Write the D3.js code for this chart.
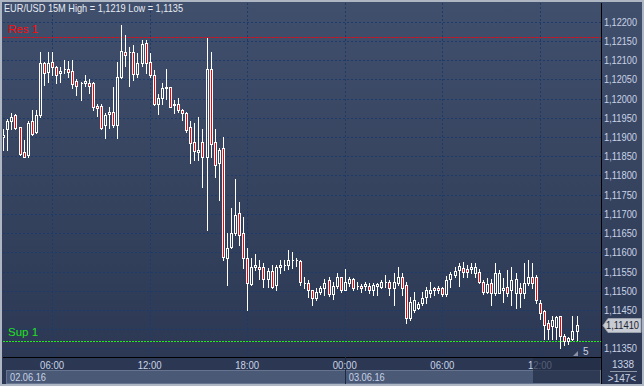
<!DOCTYPE html>
<html lang="en">
<head>
<meta charset="utf-8">
<title>EUR/USD 15M</title>
<script src="https://d3js.org/d3.v7.min.js"></script>
<style>
  html, body { margin: 0; padding: 0; background: #2f3b57; }
  svg { display: block; font-family: "Liberation Sans", Arial, sans-serif; }
</style>
</head>
<body>
<script>
// chart data: 15 minute candles from 02.06.16 03:00
var startTime = new Date(2016, 5, 2, 3, 0);
var stepMinutes = 15;

var opens = [1.11900,1.11920,1.11942,1.11957,1.11925,1.11860,1.11853,1.11942,1.11914,1.11957,
  1.12092,1.12070,1.12094,1.12081,1.12066,1.12076,1.12076,1.12072,1.12046,1.12040,
  1.12040,1.12040,1.12040,1.11981,1.11981,1.11930,1.11961,1.11964,1.11930,1.12055,
  1.12120,1.12120,1.12120,1.12064,1.12092,1.12145,1.12094,1.12061,1.11985,1.12001,
  1.12027,1.12029,1.11983,1.11986,1.11970,1.11963,1.11925,1.11886,1.11860,1.11886,
  1.11849,1.12076,1.11886,1.11832,1.11871,1.11585,1.11615,1.11650,1.11702,1.11650,
  1.11585,1.11518,1.11561,1.11561,1.11561,1.11530,1.11552,1.11514,1.11561,1.11567,
  1.11567,1.11579,1.11579,1.11577,1.11520,1.11520,1.11501,1.11481,1.11496,1.11507,
  1.11527,1.11492,1.11513,1.11535,1.11502,1.11520,1.11530,1.11513,1.11513,1.11513,
  1.11513,1.11501,1.11513,1.11511,1.11524,1.11524,1.11507,1.11521,1.11535,1.11515,
  1.11429,1.11449,1.11455,1.11468,1.11485,1.11495,1.11507,1.11507,1.11507,1.11492,
  1.11530,1.11541,1.11553,1.11560,1.11556,1.11556,1.11546,1.11550,1.11524,1.11498,
  1.11520,1.11494,1.11494,1.11501,1.11511,1.11502,1.11495,1.11507,1.11495,1.11520,
  1.11535,1.11535,1.11469,1.11448,1.11416,1.11409,1.11405,1.11433,1.11381,1.11370,
  1.11374,1.11396];
var highs = [1.11921,1.11948,1.11962,1.11959,1.11926,1.11892,1.11942,1.11970,1.11970,1.12120,
  1.12096,1.12120,1.12120,1.12086,1.12083,1.12100,1.12099,1.12100,1.12050,1.12042,
  1.12061,1.12050,1.12044,1.11986,1.11986,1.11963,1.11979,1.12031,1.12094,1.12191,
  1.12165,1.12135,1.12139,1.12118,1.12152,1.12152,1.12118,1.12074,1.12012,1.12040,
  1.12076,1.12031,1.11996,1.12001,1.11974,1.11966,1.11942,1.11936,1.11951,1.11921,
  1.12157,1.12120,1.11921,1.11872,1.11899,1.11650,1.11715,1.11790,1.11730,1.11691,
  1.11611,1.11586,1.11596,1.11579,1.11573,1.11559,1.11567,1.11567,1.11579,1.11579,
  1.11606,1.11602,1.11585,1.11579,1.11535,1.11527,1.11502,1.11507,1.11513,1.11530,
  1.11535,1.11524,1.11546,1.11537,1.11556,1.11535,1.11533,1.11524,1.11518,1.11524,
  1.11521,1.11521,1.11521,1.11527,1.11541,1.11528,1.11546,1.11561,1.11546,1.11524,
  1.11483,1.11498,1.11472,1.11498,1.11509,1.11524,1.11509,1.11513,1.11511,1.11539,
  1.11548,1.11563,1.11573,1.11576,1.11567,1.11573,1.11572,1.11556,1.11528,1.11533,
  1.11530,1.11572,1.11554,1.11533,1.11553,1.11563,1.11546,1.11521,1.11573,1.11580,
  1.11572,1.11541,1.11476,1.11450,1.11424,1.11435,1.11435,1.11435,1.11387,1.11379,
  1.11435,1.11435];
var lows = [1.11865,1.11865,1.11920,1.11920,1.11853,1.11849,1.11849,1.11904,1.11910,1.11953,
  1.12035,1.12044,1.12061,1.12040,1.12044,1.12066,1.12057,1.12027,1.12009,1.11995,
  1.12034,1.12015,1.11970,1.11955,1.11920,1.11898,1.11924,1.11927,1.11897,1.12053,
  1.12086,1.12034,1.12048,1.12055,1.12086,1.12066,1.12055,1.11983,1.11960,1.11985,
  1.11999,1.11977,1.11962,1.11966,1.11944,1.11914,1.11833,1.11839,1.11840,1.11771,
  1.11658,1.11849,1.11795,1.11735,1.11580,1.11514,1.11612,1.11645,1.11619,1.11560,
  1.11450,1.11514,1.11553,1.11530,1.11511,1.11511,1.11507,1.11502,1.11546,1.11554,
  1.11556,1.11559,1.11565,1.11514,1.11507,1.11485,1.11463,1.11475,1.11492,1.11489,
  1.11487,1.11478,1.11507,1.11498,1.11501,1.11513,1.11502,1.11504,1.11498,1.11501,
  1.11495,1.11489,1.11489,1.11507,1.11511,1.11489,1.11463,1.11515,1.11489,1.11416,
  1.11424,1.11446,1.11452,1.11463,1.11469,1.11485,1.11489,1.11495,1.11487,1.11487,
  1.11511,1.11535,1.11513,1.11535,1.11537,1.11546,1.11537,1.11520,1.11492,1.11494,
  1.11463,1.11489,1.11494,1.11472,1.11487,1.11463,1.11455,1.11459,1.11481,1.11515,
  1.11507,1.11468,1.11426,1.11374,1.11374,1.11374,1.11374,1.11350,1.11359,1.11361,
  1.11372,1.11372];
var closes = [1.11905,1.11942,1.11952,1.11923,1.11855,1.11849,1.11936,1.11909,1.11957,1.12092,
  1.12066,1.12092,1.12081,1.12061,1.12072,1.12076,1.12070,1.12038,1.12034,1.12040,
  1.12046,1.12034,1.11979,1.11975,1.11924,1.11957,1.11964,1.11930,1.12055,1.12125,
  1.12114,1.12120,1.12064,1.12092,1.12142,1.12092,1.12061,1.11985,1.12001,1.12027,
  1.12029,1.11979,1.11986,1.11969,1.11962,1.11918,1.11885,1.11864,1.11866,1.11849,
  1.12076,1.11882,1.11827,1.11866,1.11589,1.11611,1.11650,1.11697,1.11645,1.11585,
  1.11520,1.11561,1.11567,1.11556,1.11530,1.11552,1.11511,1.11561,1.11567,1.11567,
  1.11579,1.11579,1.11579,1.11524,1.11520,1.11501,1.11481,1.11496,1.11506,1.11520,
  1.11492,1.11513,1.11535,1.11502,1.11524,1.11530,1.11507,1.11513,1.11507,1.11518,
  1.11501,1.11515,1.11518,1.11524,1.11524,1.11507,1.11524,1.11535,1.11507,1.11429,
  1.11472,1.11475,1.11466,1.11481,1.11502,1.11502,1.11501,1.11501,1.11492,1.11527,
  1.11543,1.11552,1.11565,1.11550,1.11550,1.11561,1.11563,1.11524,1.11496,1.11517,
  1.11494,1.11546,1.11546,1.11507,1.11495,1.11528,1.11530,1.11495,1.11520,1.11535,
  1.11520,1.11475,1.11442,1.11410,1.11400,1.11424,1.11431,1.11381,1.11370,1.11377,
  1.11394,1.11410];

var priceTicks = [1.1135,1.1140,1.1145,1.1150,1.1155,1.1160,1.1165,1.1170,1.1175,1.1180,
  1.1185,1.1190,1.1195,1.1200,1.1205,1.1210,1.1215,1.1220];
var timeTicks = [new Date(2016,5,2,6), new Date(2016,5,2,12), new Date(2016,5,2,18),
  new Date(2016,5,3,0), new Date(2016,5,3,6), new Date(2016,5,3,12)];
var dateLabels = [{d: new Date(2016,5,2,3), t: "02.06.16"}, {d: new Date(2016,5,3,0), t: "03.06.16"}];
var resLevel = 1.1216, supLevel = 1.1137;
var lastPrice = 1.11410;
var title = "EUR/USD 15M High = 1,1219 Low = 1,1135";

var width = 644, height = 386;
var plotL = 3, plotR = 601, plotT = 3, plotB = 357;

var candles = opens.map(function(o, i) {
  return {t: d3.timeMinute.offset(startTime, i * stepMinutes), o: o, h: highs[i], l: lows[i], c: closes[i]};
});

var x = d3.scaleTime()
  .domain([startTime, candles[candles.length - 1].t])
  .range([3.3, 576.5]);
var y = d3.scaleLinear()
  .domain([1.1135, 1.1220])
  .range([348.4, 21.7]);

var fmt = function(v) { return d3.format(".5f")(v).replace(".", ","); };
var labelColor = "#c9d3e6";

var svg = d3.select("body").append("svg")
  .attr("width", width)
  .attr("height", height);

var defs = svg.append("defs");
var grad = defs.append("linearGradient").attr("id", "bg")
  .attr("x1", 0).attr("y1", 0).attr("x2", 0).attr("y2", 1);
grad.append("stop").attr("offset", "0%").attr("stop-color", "#404f6c");
grad.append("stop").attr("offset", "100%").attr("stop-color", "#2b3752");
defs.append("clipPath").attr("id", "plotclip").append("rect")
  .attr("x", plotL).attr("y", plotT).attr("width", plotR - plotL).attr("height", plotB - plotT);

// frame and background
svg.append("rect").attr("width", width).attr("height", height).attr("fill", "#aeb5c3");
svg.append("rect").attr("x", 2).attr("y", 2).attr("width", width - 4).attr("height", height - 4)
  .attr("fill", "url(#bg)");

// grid
var grid = svg.append("g").attr("clip-path", "url(#plotclip)")
  .attr("stroke", "#1c3a6a").attr("stroke-dasharray", "2,2").attr("shape-rendering", "crispEdges");
grid.selectAll(".hg").data(priceTicks).enter().append("line")
  .attr("x1", plotL).attr("x2", plotR)
  .attr("y1", function(d) { return Math.round(y(d)) + 0.5; })
  .attr("y2", function(d) { return Math.round(y(d)) + 0.5; });
grid.selectAll(".vg").data(timeTicks).enter().append("line")
  .attr("y1", plotT).attr("y2", plotB)
  .attr("x1", function(d) { return Math.round(x(d)) + 0.5; })
  .attr("x2", function(d) { return Math.round(x(d)) + 0.5; });

// support / resistance
svg.append("line").attr("x1", plotL).attr("x2", plotR)
  .attr("y1", Math.round(y(resLevel)) + 0.5).attr("y2", Math.round(y(resLevel)) + 0.5)
  .attr("stroke", "#d8101c").attr("stroke-dasharray", "3,1").attr("shape-rendering", "crispEdges");
svg.append("line").attr("x1", plotL).attr("x2", plotR)
  .attr("y1", Math.round(y(supLevel)) + 0.5).attr("y2", Math.round(y(supLevel)) + 0.5)
  .attr("stroke", "#1ee81e").attr("stroke-dasharray", "2,1").attr("shape-rendering", "crispEdges");
svg.append("text").attr("x", 8).attr("y", y(resLevel) - 4.5)
  .attr("fill", "#ff0a0a").attr("font-size", "11.5px").text("Res 1");
svg.append("text").attr("x", 8).attr("y", y(supLevel) - 4.5)
  .attr("fill", "#22e022").attr("font-size", "11.5px").text("Sup 1");

// candles
var cg = svg.append("g").attr("clip-path", "url(#plotclip)").attr("shape-rendering", "crispEdges");
candles.forEach(function(d) {
  var cx = Math.round(x(d.t));
  var top = Math.round(y(Math.max(d.o, d.c)));
  var bot = Math.round(y(Math.min(d.o, d.c)));
  cg.append("line").attr("x1", cx + 0.5).attr("x2", cx + 0.5)
    .attr("y1", Math.round(y(d.h))).attr("y2", top).attr("stroke", "#fff");
  cg.append("line").attr("x1", cx + 0.5).attr("x2", cx + 0.5)
    .attr("y1", bot).attr("y2", Math.round(y(d.l)) + 1).attr("stroke", "#fff");
  cg.append("path")
    .attr("d", "M" + (cx - 0.5) + "," + (top + 0.5) + "h2v" + (bot - top) + "h-2Z")
    .attr("fill", d.c < d.o ? "#ff0000" : "none")
    .attr("stroke", "#fff");
});

// axes lines
svg.append("line").attr("x1", plotR + 0.5).attr("x2", plotR + 0.5).attr("y1", plotT).attr("y2", 384)
  .attr("stroke", "#000");
svg.append("line").attr("x1", plotL).attr("x2", plotR).attr("y1", plotB + 0.5).attr("y2", plotB + 0.5)
  .attr("stroke", "#000");

// price labels
svg.append("g").selectAll("text")
  .data(priceTicks.filter(function(d) { return Math.abs(y(d) - y(lastPrice)) > 8; }))
  .enter().append("text")
  .attr("x", 604).attr("y", function(d) { return y(d) + 4; })
  .attr("fill", labelColor).attr("font-size", "10px")
  .attr("textLength", 33).attr("lengthAdjust", "spacingAndGlyphs")
  .text(fmt);

// last price marker
var ly = Math.round(y(lastPrice));
svg.append("path")
  .attr("d", "M603," + (ly + 0.5) + "L608," + (ly - 6.5) + "H641V" + (ly + 7.5) + "H608Z")
  .attr("fill", "#c7cbd3").attr("stroke", "#9aa0ac");
svg.append("text").attr("x", 606).attr("y", ly + 4).attr("fill", "#1e2430")
  .attr("font-size", "10px").attr("textLength", 33).attr("lengthAdjust", "spacingAndGlyphs")
  .text(fmt(lastPrice));

// date row
svg.append("rect").attr("x", 6.5).attr("y", 370.5).attr("width", 594).attr("height", 13)
  .attr("fill", "#4a5976").attr("stroke", "#66748f");
svg.append("line").attr("x1", Math.round(x(dateLabels[1].d)) + 0.5).attr("x2", Math.round(x(dateLabels[1].d)) + 0.5)
  .attr("y1", plotB).attr("y2", 384).attr("stroke", "#1e2a44");
svg.append("g").selectAll("text").data(dateLabels).enter().append("text")
  .attr("x", function(d, i) { return i ? x(d.d) + 4 : 10; })
  .attr("y", 381).attr("fill", labelColor).attr("font-size", "10px")
  .attr("textLength", 36).attr("lengthAdjust", "spacingAndGlyphs")
  .text(function(d) { return d.t; });

// time labels
svg.append("g").selectAll("text").data(timeTicks).enter().append("text")
  .attr("x", function(d) { return x(d); }).attr("y", 369)
  .attr("text-anchor", "middle").attr("fill", labelColor).attr("font-size", "10px")
  .attr("textLength", 24).attr("lengthAdjust", "spacingAndGlyphs")
  .text(d3.timeFormat("%H:%M"));

// scroll window box
svg.append("rect").attr("x", 533).attr("y", 358).attr("width", 67).attr("height", 25)
  .attr("fill", "#222c44").attr("opacity", 0.7);
svg.append("path").attr("d", "M573,356L578,356L578,351Z").attr("fill", "#8a93a6");
svg.append("text").attr("x", 583).attr("y", 355).attr("fill", labelColor)
  .attr("font-size", "10px").text("5");

// right bottom counters
svg.append("text").attr("x", 623).attr("y", 368).attr("text-anchor", "middle")
  .attr("fill", labelColor).attr("font-size", "10px").text("1338");
svg.append("line").attr("x1", 610).attr("x2", 637).attr("y1", 371.5).attr("y2", 371.5)
  .attr("stroke", "#8e97aa");
svg.append("text").attr("x", 622).attr("y", 382).attr("text-anchor", "middle")
  .attr("fill", labelColor).attr("font-size", "10px").text(">147<");

// title
svg.append("text").attr("x", 4).attr("y", 12).attr("fill", "#e6ebf3")
  .attr("font-size", "10.5px").attr("textLength", 179).attr("lengthAdjust", "spacingAndGlyphs")
  .text(title);
</script>
</body>
</html>
